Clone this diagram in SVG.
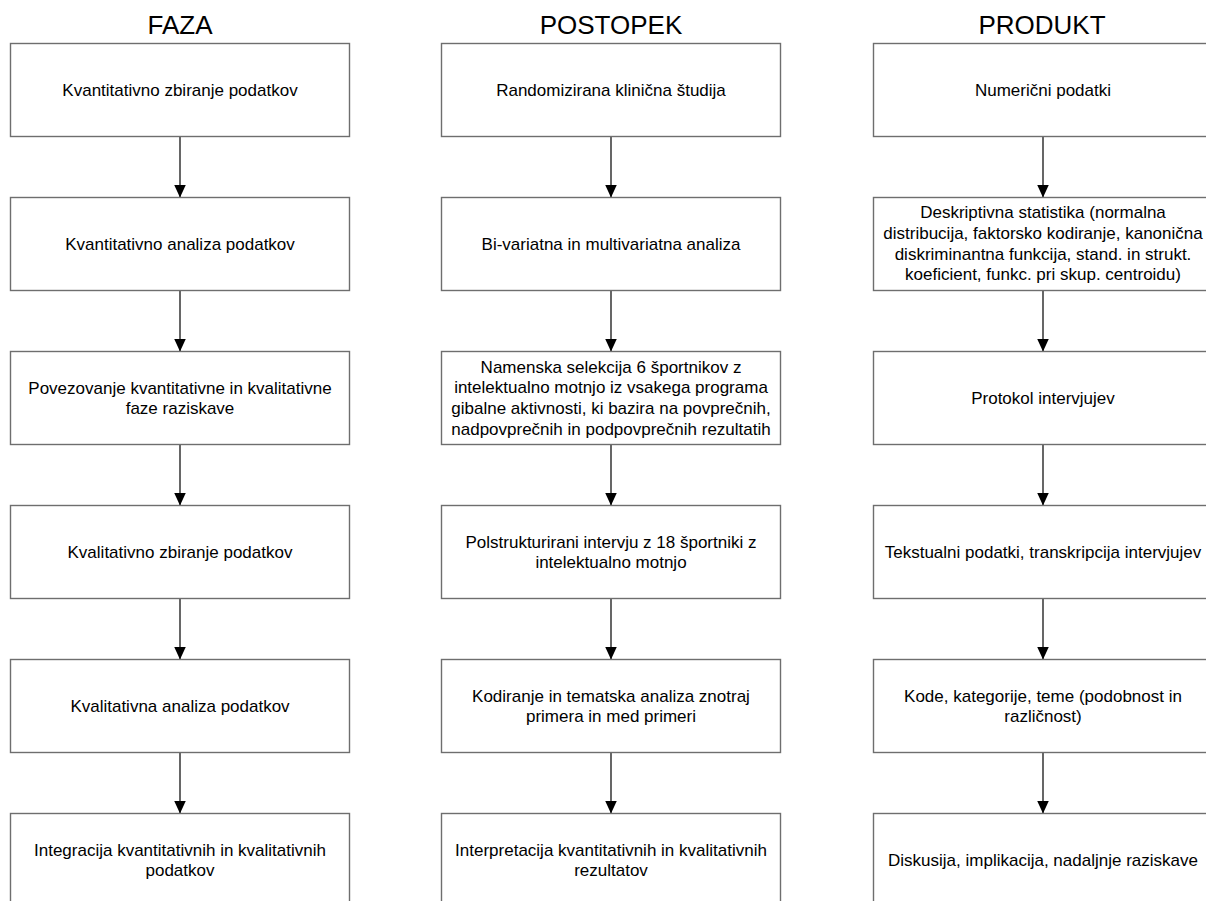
<svg xmlns="http://www.w3.org/2000/svg" width="1206" height="901" viewBox="0 0 1206 901">
<style>
.box{fill:#ffffff;stroke:#6e6e6e;stroke-width:1.4}
.t{font-family:"Liberation Sans",Arial,sans-serif;font-size:17px;fill:#000;text-anchor:middle}
.h{font-family:"Liberation Sans",Arial,sans-serif;font-size:26px;fill:#000;text-anchor:middle}
.edge{stroke:#000;stroke-width:1.2;fill:none}
</style>
<defs>
<marker id="arr" markerUnits="userSpaceOnUse" markerWidth="14" markerHeight="12" refX="13" refY="6" orient="auto">
<path d="M0,0 L13,6 L0,12 Z" fill="#000"/>
</marker>
</defs>
<rect width="1206" height="901" fill="#ffffff"/>
<g id="headers">
<text class="h" x="180" y="34">FAZA</text>
<text class="h" x="611" y="34">POSTOPEK</text>
<text class="h" x="1042" y="34">PRODUKT</text>
</g>
<g id="connectors">
<line class="edge" x1="180" y1="136.5" x2="180" y2="197.5" marker-end="url(#arr)"/>
<line class="edge" x1="180" y1="290.5" x2="180" y2="351.5" marker-end="url(#arr)"/>
<line class="edge" x1="180" y1="444.5" x2="180" y2="505.5" marker-end="url(#arr)"/>
<line class="edge" x1="180" y1="598.5" x2="180" y2="659.5" marker-end="url(#arr)"/>
<line class="edge" x1="180" y1="752.5" x2="180" y2="813.5" marker-end="url(#arr)"/>
<line class="edge" x1="611" y1="136.5" x2="611" y2="197.5" marker-end="url(#arr)"/>
<line class="edge" x1="611" y1="290.5" x2="611" y2="351.5" marker-end="url(#arr)"/>
<line class="edge" x1="611" y1="444.5" x2="611" y2="505.5" marker-end="url(#arr)"/>
<line class="edge" x1="611" y1="598.5" x2="611" y2="659.5" marker-end="url(#arr)"/>
<line class="edge" x1="611" y1="752.5" x2="611" y2="813.5" marker-end="url(#arr)"/>
<line class="edge" x1="1043" y1="136.5" x2="1043" y2="197.5" marker-end="url(#arr)"/>
<line class="edge" x1="1043" y1="290.5" x2="1043" y2="351.5" marker-end="url(#arr)"/>
<line class="edge" x1="1043" y1="444.5" x2="1043" y2="505.5" marker-end="url(#arr)"/>
<line class="edge" x1="1043" y1="598.5" x2="1043" y2="659.5" marker-end="url(#arr)"/>
<line class="edge" x1="1043" y1="752.5" x2="1043" y2="813.5" marker-end="url(#arr)"/>
</g>
<g id="f1"><rect class="box" x="10.5" y="43.5" width="339" height="93"/><text class="t" x="180" y="96">Kvantitativno zbiranje podatkov</text></g>
<g id="f2"><rect class="box" x="10.5" y="197.5" width="339" height="93"/><text class="t" x="180" y="250">Kvantitativno analiza podatkov</text></g>
<g id="f3"><rect class="box" x="10.5" y="351.5" width="339" height="93"/><text class="t" x="180" y="393.6">Povezovanje kvantitativne in kvalitativne</text><text class="t" x="180" y="414.4">faze raziskave</text></g>
<g id="f4"><rect class="box" x="10.5" y="505.5" width="339" height="93"/><text class="t" x="180" y="558">Kvalitativno zbiranje podatkov</text></g>
<g id="f5"><rect class="box" x="10.5" y="659.5" width="339" height="93"/><text class="t" x="180" y="712">Kvalitativna analiza podatkov</text></g>
<g id="f6"><rect class="box" x="10.5" y="813.5" width="339" height="93"/><text class="t" x="180" y="855.6">Integracija kvantitativnih in kvalitativnih</text><text class="t" x="180" y="876.4">podatkov</text></g>
<g id="p1"><rect class="box" x="441.5" y="43.5" width="339" height="93"/><text class="t" x="611" y="96">Randomizirana klinična študija</text></g>
<g id="p2"><rect class="box" x="441.5" y="197.5" width="339" height="93"/><text class="t" x="611" y="250">Bi-variatna in multivariatna analiza</text></g>
<g id="p3"><rect class="box" x="441.5" y="351.5" width="339" height="93"/><text class="t" x="611" y="372.6">Namenska selekcija 6 športnikov z</text><text class="t" x="611" y="393.4">intelektualno motnjo iz vsakega programa</text><text class="t" x="611" y="414.2">gibalne aktivnosti, ki bazira na povprečnih,</text><text class="t" x="611" y="435">nadpovprečnih in podpovprečnih rezultatih</text></g>
<g id="p4"><rect class="box" x="441.5" y="505.5" width="339" height="93"/><text class="t" x="611" y="547.6">Polstrukturirani intervju z 18 športniki z</text><text class="t" x="611" y="568.4">intelektualno motnjo</text></g>
<g id="p5"><rect class="box" x="441.5" y="659.5" width="339" height="93"/><text class="t" x="611" y="701.6">Kodiranje in tematska analiza znotraj</text><text class="t" x="611" y="722.4">primera in med primeri</text></g>
<g id="p6"><rect class="box" x="441.5" y="813.5" width="339" height="93"/><text class="t" x="611" y="855.6">Interpretacija kvantitativnih in kvalitativnih</text><text class="t" x="611" y="876.4">rezultatov</text></g>
<g id="r1"><rect class="box" x="873.5" y="43.5" width="339" height="93"/><text class="t" x="1043" y="96">Numerični podatki</text></g>
<g id="r2"><rect class="box" x="873.5" y="197.5" width="339" height="93"/><text class="t" x="1043" y="218">Deskriptivna statistika (normalna</text><text class="t" x="1043" y="238.8">distribucija, faktorsko kodiranje, kanonična</text><text class="t" x="1043" y="259.6">diskriminantna funkcija, stand. in strukt.</text><text class="t" x="1043" y="280.4">koeficient, funkc. pri skup. centroidu)</text></g>
<g id="r3"><rect class="box" x="873.5" y="351.5" width="339" height="93"/><text class="t" x="1043" y="404">Protokol intervjujev</text></g>
<g id="r4"><rect class="box" x="873.5" y="505.5" width="339" height="93"/><text class="t" x="1043" y="558">Tekstualni podatki, transkripcija intervjujev</text></g>
<g id="r5"><rect class="box" x="873.5" y="659.5" width="339" height="93"/><text class="t" x="1043" y="701.6">Kode, kategorije, teme (podobnost in</text><text class="t" x="1043" y="722.4">različnost)</text></g>
<g id="r6"><rect class="box" x="873.5" y="813.5" width="339" height="93"/><text class="t" x="1043" y="866">Diskusija, implikacija, nadaljnje raziskave</text></g>
</svg>
